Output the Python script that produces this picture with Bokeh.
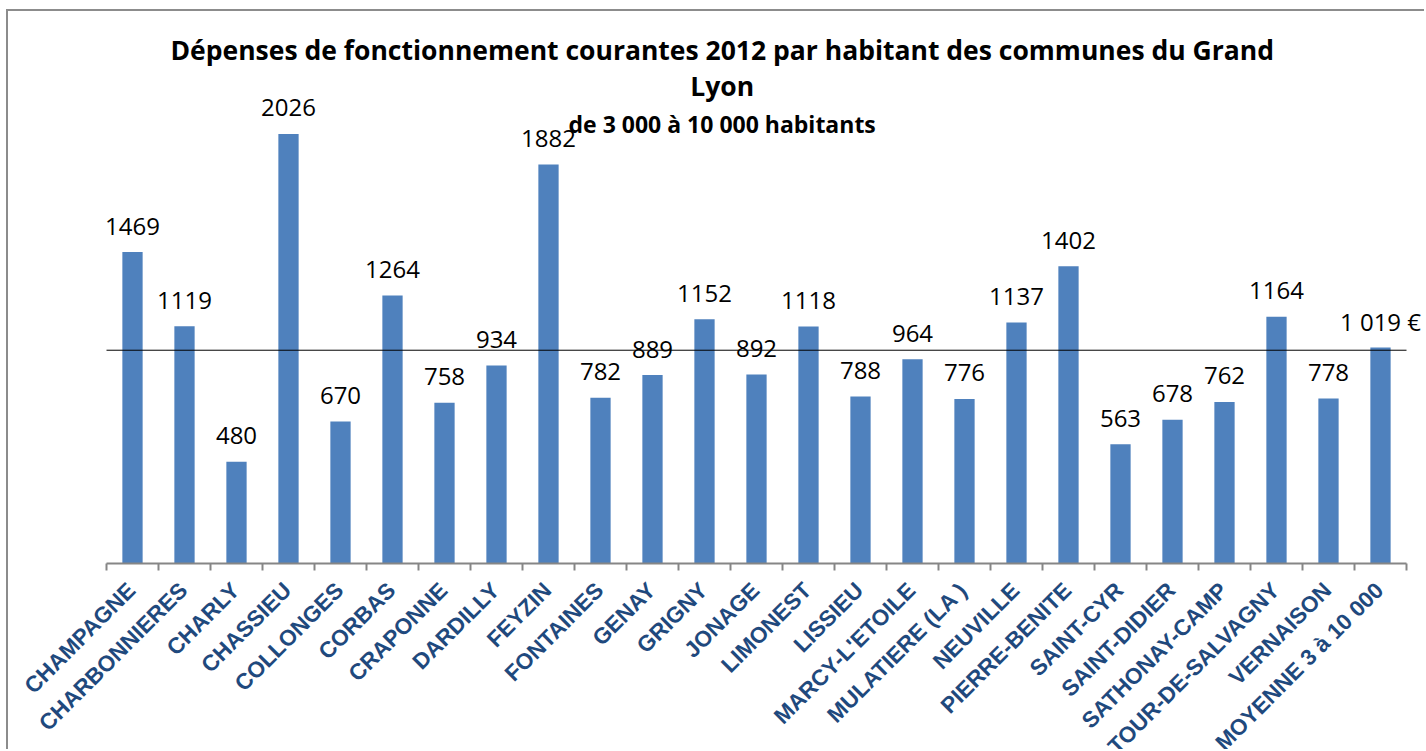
import math
from bokeh.plotting import figure
from bokeh.models import (Range1d, ColumnDataSource, Label, LabelSet)
from bokeh.embed import file_html
from bokeh.resources import INLINE
from bokeh.core.properties import value

communes = ["CHAMPAGNE", "CHARBONNIERES", "CHARLY", "CHASSIEU", "COLLONGES",
            "CORBAS", "CRAPONNE", "DARDILLY", "FEYZIN", "FONTAINES", "GENAY",
            "GRIGNY", "JONAGE", "LIMONEST", "LISSIEU", "MARCY-L'ETOILE",
            "MULATIERE (LA )", "NEUVILLE", "PIERRE-BENITE", "SAINT-CYR",
            "SAINT-DIDIER", "SATHONAY-CAMP", "TOUR-DE-SALVAGNY", "VERNAISON",
            "MOYENNE 3 à 10 000"]
depenses = [1469, 1119, 480, 2026, 670, 1264, 758, 934, 1882, 782, 889, 1152,
            892, 1118, 788, 964, 776, 1137, 1402, 563, 678, 762, 1164, 778, 1019]
ligne_moyenne = 1006

titre_1 = "Dépenses de fonctionnement courantes 2012 par habitant des communes du Grand"
titre_2 = "Lyon"
sous_titre = "de 3 000 à 10 000 habitants"

n = len(communes)
positions = list(range(n))
bords = [i - 0.5 for i in range(n + 1)]
etiquettes = [str(v) for v in depenses[:-1]] + [f"{depenses[-1]:,}".replace(",", " ") + " €"]

src = ColumnDataSource(dict(pos=positions, depense=depenses, etiquette=etiquettes,
                            commune=communes))

W, H = 1418, 740
left, top = 98, 22
px_cat = 52.0
px_val = 0.212
tick_px = 7
x_start = -0.5 - left / px_cat
x_end = -0.5 + (W - left) / px_cat
y_start = -(H - top - 2500 * px_val) / px_val

p = figure(x_range=Range1d(x_start, x_end), y_range=Range1d(y_start, 2500),
           width=W, height=H, output_backend="svg", toolbar_location=None,
           x_axis_location=None, y_axis_location=None,
           min_border_left=0, min_border_right=0, min_border_top=top,
           min_border_bottom=0)
p.outline_line_color = None
p.background_fill_color = "white"
p.border_fill_color = "white"
p.xgrid.visible = False
p.ygrid.visible = False
p.styles = {"border-left": "2px solid #8c8c8c", "border-top": "2px solid #8c8c8c",
            "margin-left": "6px", "margin-top": "9px"}

p.vbar(x="pos", top="depense", width=0.39, source=src,
       fill_color="#4F81BD", line_color=None)

# horizontal reference line across the category span
p.segment(x0=[bords[0]], x1=[bords[-1]], y0=[ligne_moyenne], y1=[ligne_moyenne],
          line_color="black", line_width=1)

# category axis line and ticks at category boundaries
tick_len = tick_px / px_val
p.segment(x0=[bords[0]], x1=[bords[-1]], y0=[0], y1=[0],
          line_color="#868686", line_width=2)
p.segment(x0=bords, x1=bords, y0=[0] * len(bords), y1=[-tick_len] * len(bords),
          line_color="#868686", line_width=2)

# value labels
p.text(x="pos", y="depense", text="etiquette", source=src,
       text_align="center", text_baseline="alphabetic", y_offset=-26,
       text_font=value("Open Sans"), text_font_size="24px", text_color="black")

# category names, rotated 45 degrees, ending under each bar
p.add_layout(LabelSet(x="pos", y=0, text="commune", source=src,
                      angle=math.pi / 4, text_align="right", text_baseline="middle",
                      x_offset=-1, y_offset=-23,
                      text_font=value("Liberation Sans"),
                      text_font_style="bold",
                      text_font_size="22.5px", text_color="#1F497D"))

# titles
titre_x = 11.34
for txt, yy, size in [(titre_1, 2423, "26.5px"), (titre_2, 2251, "26.5px"),
                      (sous_titre, 2075, "23px")]:
    p.add_layout(Label(x=titre_x, y=yy, text=txt, text_align="center",
                       text_baseline="alphabetic", text_font="Open Sans",
                       text_font_style="bold", text_font_size=size,
                       text_color="black"))

open("out.html", "w").write(file_html(p, INLINE))
